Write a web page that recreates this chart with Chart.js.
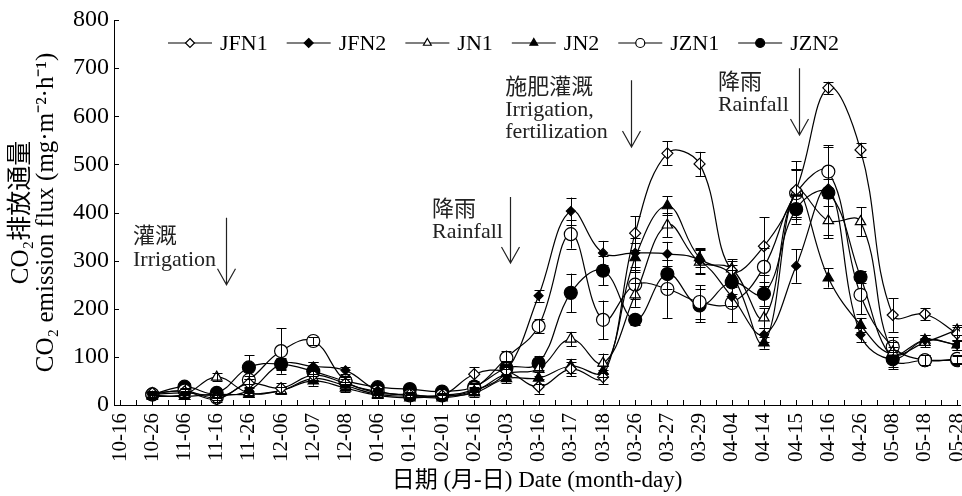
<!DOCTYPE html>
<html>
<head>
<meta charset="utf-8">
<title>CO2 emission flux</title>
<script src="https://cdn.jsdelivr.net/npm/chart.js"></script>
<style>
    html, body { margin: 0; padding: 0; background: #fff; }
    #wrap { width: 962px; height: 496px; }
</style>
</head>
<body>
<div id="wrap"><canvas id="flux-chart" width="962" height="496"></canvas></div>
<script>
var dates = ['10-16', '10-26', '11-06', '11-16', '11-26', '12-06', '12-07', '12-08', '01-06',
    '01-16', '02-01', '02-16', '03-03', '03-16', '03-17', '03-18', '03-26', '03-27', '03-29',
    '04-04', '04-14', '04-15', '04-16', '04-26', '05-08', '05-18', '05-28'];

var yTicks = [0, 100, 200, 300, 400, 500, 600, 700, 800];

// CO2 flux, mg m-2 h-1 (no sampling on 10-16)
var JFN1 = [null, 25, 28, 12, 45, 35, 62, 45, 25, 22, 20, 64, 70, 38, 75, 58, 357, 523, 501, 280, 330, 447, 659, 530, 187, 189, 148];
var JFN2 = [null, 22, 25, 20, 30, 85, 80, 72, 30, 20, 18, 30, 70, 227, 403, 316, 316, 314, 300, 225, 146, 289, 450, 146, 95, 135, 125];
var JN1  = [null, 20, 22, 58, 25, 30, 55, 40, 22, 18, 15, 28, 65, 75, 137, 87, 229, 374, 297, 283, 181, 443, 383, 381, 110, 130, 156];
var JN2  = [null, 18, 18, 22, 22, 30, 50, 35, 20, 15, 18, 25, 55, 56, 81, 70, 306, 414, 306, 270, 129, 440, 264, 166, 105, 135, 125];
var JZN1 = [null, 22, 30, 15, 52, 112, 133, 50, 28, 20, 20, 35, 98, 164, 355, 177, 250, 241, 214, 212, 287, 440, 485, 229, 121, 93, 96];
var JZN2 = [null, 22, 38, 25, 78, 85, 70, 50, 37, 33, 28, 38, 77, 87, 233, 279, 177, 272, 207, 255, 231, 407, 441, 266, 95, 93, 93];

// standard errors
var JFN1_err = [null, 5, 5, 5, 8, 10, 10, 8, 5, 5, 5, 15, 20, 15, 15, 15, 35, 25, 25, 20, 60, 60, 12, 15, 35, 12, 15];
var JFN2_err = [null, 5, 5, 5, 5, 10, 10, 8, 5, 5, 5, 8, 10, 12, 28, 25, 30, 25, 25, 20, 15, 35, 20, 15, 15, 10, 10];
var JN1_err  = [null, 5, 5, 8, 5, 8, 10, 8, 5, 5, 5, 8, 10, 15, 15, 20, 25, 25, 25, 20, 20, 45, 30, 30, 20, 10, 10];
var JN2_err  = [null, 5, 5, 5, 5, 8, 10, 8, 5, 5, 5, 8, 10, 12, 15, 12, 30, 20, 20, 20, 12, 50, 20, 15, 15, 10, 10];
var JZN1_err = [null, 5, 5, 5, 8, 47, 8, 8, 5, 5, 5, 8, 15, 15, 30, 40, 30, 60, 35, 40, 40, 50, 55, 40, 20, 10, 8];
var JZN2_err = [null, 5, 8, 5, 25, 12, 20, 10, 5, 5, 5, 8, 15, 15, 40, 30, 10, 30, 35, 25, 25, 30, 95, 12, 20, 10, 8];

var seriesNames  = ['JFN1', 'JFN2', 'JN1', 'JN2', 'JZN1', 'JZN2'];
var seriesValues = [JFN1, JFN2, JN1, JN2, JZN1, JZN2];
var seriesErrors = [JFN1_err, JFN2_err, JN1_err, JN2_err, JZN1_err, JZN2_err];

var markerStyle  = ['rectRot', 'rectRot', 'triangle', 'triangle', 'circle', 'circle'];
var markerFilled = [false, true, false, true, false, true];
var markerRadius = [5.5, 4.5, 6, 6, 6.5, 6.5];

var FONT = "'Liberation Serif', 'Times New Roman', 'Noto Sans CJK SC', serif";

// event notes: arrow at x (category index) from yTop down to yBottom, text block to the left
var notes = [
    { x: 3.29, yTop: 389, yBottom: 250, textX: 0.4, lines: [['灌溉', 349], ['Irrigation', 301]] },
    { x: 12.12, yTop: 432, yBottom: 295, textX: 9.69, lines: [['降雨', 405], ['Rainfall', 359]] },
    { x: 15.87, yTop: 675, yBottom: 536, textX: 11.96, lines: [['施肥灌溉', 659], ['Irrigation,', 613], ['fertilization', 567]] },
    { x: 21.09, yTop: 700, yBottom: 561, textX: 18.57, lines: [['降雨', 669], ['Rainfall', 623]] }
];

function toPoints(values) {
    var pts = [];
    values.forEach(function(v, i) {
        if (v !== null) pts.push({ x: i, y: v });
    });
    return pts;
}

function drawMarker(ctx, style, filled, x, y, r) {
    ctx.beginPath();
    if (style === 'circle') {
        ctx.arc(x, y, r, 0, Math.PI * 2);
    } else if (style === 'rectRot') {
        ctx.moveTo(x, y - r);
        ctx.lineTo(x + r, y);
        ctx.lineTo(x, y + r);
        ctx.lineTo(x - r, y);
    } else {
        var h = r * 1.5;
        ctx.moveTo(x, y - h * 2 / 3);
        ctx.lineTo(x + h / Math.sqrt(3), y + h / 3);
        ctx.lineTo(x - h / Math.sqrt(3), y + h / 3);
    }
    ctx.closePath();
    ctx.fillStyle = filled ? '#000' : '#fff';
    ctx.fill();
    ctx.stroke();
}

var errorBars = {
    id: 'errorBars',
    afterDatasetsDraw: function(chart) {
        var ctx = chart.ctx;
        var yScale = chart.scales.y;
        ctx.save();
        ctx.strokeStyle = '#000';
        ctx.lineWidth = 1;
        chart.data.datasets.forEach(function(ds, i) {
            var meta = chart.getDatasetMeta(i);
            meta.data.forEach(function(pt, j) {
                var d = ds.data[j];
                var e = ds.errors[d.x];
                if (!e) return;
                var top = yScale.getPixelForValue(d.y + e);
                var bot = yScale.getPixelForValue(Math.max(d.y - e, 0));
                var px = Math.round(pt.x) + 0.5;
                ctx.beginPath();
                ctx.moveTo(px, top);
                ctx.lineTo(px, bot);
                ctx.moveTo(px - 5, Math.round(top) + 0.5);
                ctx.lineTo(px + 5, Math.round(top) + 0.5);
                ctx.moveTo(px - 5, Math.round(bot) + 0.5);
                ctx.lineTo(px + 5, Math.round(bot) + 0.5);
                ctx.stroke();
            });
        });
        ctx.restore();
    }
};

var innerTicks = {
    id: 'innerTicks',
    afterDraw: function(chart) {
        var ctx = chart.ctx;
        var xs = chart.scales.x, ys = chart.scales.y;
        var area = chart.chartArea;
        ctx.save();
        ctx.strokeStyle = '#000';
        ctx.lineWidth = 1;
        ctx.beginPath();
        yTicks.forEach(function(v) {
            var py = Math.round(ys.getPixelForValue(v)) + 0.5;
            ctx.moveTo(area.left, py);
            ctx.lineTo(area.left + 5, py);
        });
        for (var v = 0; v <= dates.length - 1; v += 0.5) {
            var px = Math.round(xs.getPixelForValue(v)) + 0.5;
            ctx.moveTo(px, area.bottom);
            ctx.lineTo(px, area.bottom - 5);
        }
        ctx.stroke();
        ctx.restore();
    }
};

var eventNotes = {
    id: 'eventNotes',
    afterDraw: function(chart) {
        var ctx = chart.ctx;
        var xs = chart.scales.x, ys = chart.scales.y;
        ctx.save();
        ctx.strokeStyle = '#222';
        ctx.fillStyle = '#222';
        ctx.lineWidth = 1.2;
        ctx.font = '22px ' + FONT;
        ctx.textBaseline = 'middle';
        ctx.textAlign = 'left';
        notes.forEach(function(n) {
            var ax = Math.round(xs.getPixelForValue(n.x)) + 0.5;
            var top = ys.getPixelForValue(n.yTop);
            var bot = ys.getPixelForValue(n.yBottom);
            ctx.beginPath();
            ctx.moveTo(ax, top);
            ctx.lineTo(ax, bot);
            ctx.moveTo(ax - 9, bot - 16);
            ctx.lineTo(ax, bot);
            ctx.lineTo(ax + 9, bot - 16);
            ctx.stroke();
            var tx = xs.getPixelForValue(n.textX);
            n.lines.forEach(function(l) {
                ctx.fillText(l[0], tx, ys.getPixelForValue(l[1]));
            });
        });
        ctx.restore();
    }
};

var lineLegend = {
    id: 'lineLegend',
    afterDraw: function(chart) {
        var ctx = chart.ctx;
        var x = 168, y = 43;
        ctx.save();
        ctx.font = '22px ' + FONT;
        ctx.textBaseline = 'middle';
        ctx.textAlign = 'left';
        ctx.strokeStyle = '#000';
        ctx.lineWidth = 1.2;
        seriesNames.forEach(function(name, i) {
            ctx.beginPath();
            ctx.moveTo(x, y);
            ctx.lineTo(x + 44, y);
            ctx.stroke();
            drawMarker(ctx, markerStyle[i], markerFilled[i], x + 22, y, 4.5);
            ctx.fillStyle = '#000';
            ctx.fillText(name, x + 52, y + 1);
            x += 52 + ctx.measureText(name).width + 19;
        });
        ctx.restore();
    }
};

var datasets = seriesNames.map(function(name, i) {
    return {
        label: name,
        data: toPoints(seriesValues[i]),
        errors: seriesErrors[i],
        borderColor: '#000',
        borderWidth: 1.2,
        tension: 0.4,
        pointStyle: markerStyle[i],
        pointRadius: markerRadius[i],
        pointBorderWidth: 1.2,
        pointBorderColor: '#000',
        pointBackgroundColor: markerFilled[i] ? '#000' : '#fff'
    };
});

new Chart(document.getElementById('flux-chart'), {
    type: 'line',
    data: { datasets: datasets },
    plugins: [errorBars, innerTicks, eventNotes, lineLegend],
    options: {
        responsive: false,
        animation: false,
        events: [],
        layout: { autoPadding: false, padding: { top: 20, right: 2, left: 0, bottom: 0 } },
        plugins: {
            legend: { display: false },
            tooltip: { enabled: false }
        },
        scales: {
            x: {
                type: 'linear',
                min: -0.19,
                max: 26.09,
                afterFit: function(s) {
                    s.height = 91;
                    s.paddingLeft = 0;
                    s.paddingRight = 0;
                },
                grid: { display: false, drawTicks: false },
                border: { display: true, color: '#000', width: 1 },
                ticks: {
                    stepSize: 1,
                    autoSkip: false,
                    includeBounds: false,
                    minRotation: 90,
                    maxRotation: 90,
                    padding: 8,
                    color: '#000',
                    font: { family: FONT, size: 21 },
                    callback: function(v) { return dates[v]; }
                },
                title: {
                    display: true,
                    text: '日期 (月-日) Date (month-day)',
                    color: '#000',
                    font: { family: FONT, size: 23 },
                    padding: { top: 0, bottom: 1 }
                }
            },
            y: {
                min: 0,
                max: 800,
                afterFit: function(s) {
                    s.width = 114;
                    s.paddingTop = 0;
                    s.paddingBottom = 0;
                },
                grid: { display: false, drawTicks: false },
                border: { display: true, color: '#000', width: 1 },
                ticks: {
                    stepSize: 100,
                    padding: 5,
                    color: '#000',
                    font: { family: FONT, size: 24 }
                },
                title: {
                    display: true,
                    text: ['CO₂排放通量', 'CO₂ emission flux (mg·m⁻²·h⁻¹)'],
                    color: '#000',
                    font: { family: FONT, size: 25, lineHeight: 1.0 },
                    padding: { top: 9, bottom: 0 }
                }
            }
        }
    }
});
</script>
</body>
</html>
